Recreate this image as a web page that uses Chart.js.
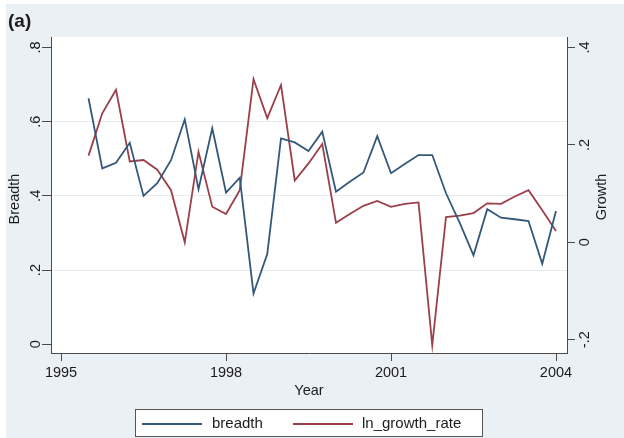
<!DOCTYPE html>
<html>
<head>
<meta charset="utf-8">
<script src="https://cdn.jsdelivr.net/npm/chart.js@4/dist/chart.umd.min.js"></script>
<style>
  html, body { margin: 0; padding: 0; background: #ffffff; }
  #wrap { width: 624px; height: 438px; position: relative; }
</style>
</head>
<body>
<div id="wrap"><canvas id="c" width="624" height="438"></canvas></div>
<script>
// Quarterly observations (year fractions)
const periods = [
  1995.50, 1995.75, 1996.00, 1996.25, 1996.50, 1996.75, 1997.00, 1997.25, 1997.50, 1997.75,
  1998.00, 1998.25, 1998.50, 1998.75, 1999.00, 1999.25, 1999.50, 1999.75, 2000.00, 2000.25,
  2000.50, 2000.75, 2001.00, 2001.25, 2001.50, 2001.75, 2002.00, 2002.25, 2002.50, 2002.75,
  2003.00, 2003.25, 2003.50, 2003.75, 2004.00
];

// Breadth (left axis)
const breadth = [
  0.663, 0.474, 0.489, 0.543, 0.400, 0.434, 0.496, 0.606, 0.418, 0.582,
  0.409, 0.449, 0.137, 0.243, 0.555, 0.544, 0.521, 0.573, 0.411, 0.438,
  0.463, 0.561, 0.461, 0.486, 0.510, 0.510, 0.407, 0.327, 0.240, 0.364,
  0.341, 0.337, 0.332, 0.217, 0.359
];

// ln growth rate (right axis)
const lnGrowthRate = [
  0.178, 0.265, 0.313, 0.166, 0.169, 0.149, 0.107, 0.000, 0.186, 0.073,
  0.058, 0.107, 0.335, 0.255, 0.323, 0.127, 0.162, 0.202, 0.040, 0.058,
  0.075, 0.085, 0.073, 0.079, 0.082, -0.211, 0.052, 0.055, 0.060, 0.080,
  0.079, 0.094, 0.107, 0.066, 0.023
];

// Axis ticks and their labels
const xTicks = [1995, 1998, 2001, 2004];
const xTickLabels = ['1995', '1998', '2001', '2004'];
const leftTicks = [0, 0.2, 0.4, 0.6, 0.8];
const leftTickLabels = ['0', '.2', '.4', '.6', '.8'];
const rightTicks = [-0.2, 0, 0.2, 0.4];
const rightTickLabels = ['-.2', '0', '.2', '.4'];

const seriesNames = ['breadth', 'ln_growth_rate'];
const BLUE = '#34587a';
const RED = '#9b3f4a';
const AXIS = '#4a4a4a';
const TEXT = '#1c1c1c';
const FONT = '"Liberation Sans", Arial, Helvetica, sans-serif';

const fixedTicks = (vals) => (scale) => { scale.ticks = vals.map(v => ({ value: v })); };

// Graph region, plot region, rotated axis text, title and legend box
const decor = {
  id: 'decor',
  beforeDraw(chart) {
    const { ctx, chartArea: a } = chart;
    ctx.save();
    ctx.fillStyle = '#ffffff';
    ctx.fillRect(0, 0, chart.width, chart.height);
    ctx.fillStyle = '#eaf0f4';
    ctx.fillRect(6, 4, chart.width - 6, chart.height - 4);
    ctx.fillStyle = '#ffffff';
    ctx.fillRect(a.left, a.top, a.right - a.left, a.bottom - a.top);
    ctx.restore();
  },
  afterDraw(chart) {
    const { ctx, chartArea: a } = chart;
    const sx = chart.scales.x, sl = chart.scales.y, sr = chart.scales.y1;
    ctx.save();
    ctx.fillStyle = TEXT;

    // title
    ctx.font = 'bold 19px ' + FONT;
    ctx.textAlign = 'left';
    ctx.textBaseline = 'alphabetic';
    ctx.fillText('(a)', 8, 27);

    // x tick labels and title
    ctx.font = '14.5px ' + FONT;
    ctx.textAlign = 'center';
    ctx.textBaseline = 'middle';
    xTicks.forEach((v, i) => ctx.fillText(xTickLabels[i], sx.getPixelForValue(v), 373));
    ctx.fillText('Year', (a.left + a.right) / 2, 391);

    // rotated y tick labels and titles
    const vtext = (txt, x, y) => {
      ctx.save();
      ctx.translate(x, y);
      ctx.rotate(-Math.PI / 2);
      ctx.fillText(txt, 0, 0);
      ctx.restore();
    };
    leftTicks.forEach((v, i) => vtext(leftTickLabels[i], 35.5, sl.getPixelForValue(v)));
    rightTicks.forEach((v, i) => vtext(rightTickLabels[i], 585, sr.getPixelForValue(v)));
    vtext('Breadth', 15, 199);
    vtext('Growth', 601.5, 197);

    // legend
    const bx = 135.5, by = 409.5, bw = 347, bh = 27;
    ctx.fillStyle = '#ffffff';
    ctx.fillRect(bx, by, bw, bh);
    ctx.strokeStyle = '#555555';
    ctx.lineWidth = 1;
    ctx.strokeRect(bx, by, bw, bh);
    const ly = 424;
    ctx.lineWidth = 1.8;
    ctx.strokeStyle = BLUE;
    ctx.beginPath(); ctx.moveTo(142, ly); ctx.lineTo(202, ly); ctx.stroke();
    ctx.strokeStyle = RED;
    ctx.beginPath(); ctx.moveTo(293, ly); ctx.lineTo(353, ly); ctx.stroke();
    ctx.fillStyle = TEXT;
    ctx.font = '15px ' + FONT;
    ctx.textAlign = 'left';
    ctx.fillText(seriesNames[0], 212, ly);
    ctx.fillText(seriesNames[1], 362, ly);
    ctx.restore();
  }
};

new Chart(document.getElementById('c'), {
  type: 'line',
  data: {
    datasets: [
      {
        label: seriesNames[0],
        data: periods.map((p, i) => ({ x: p, y: breadth[i] })),
        yAxisID: 'y',
        borderColor: BLUE,
        borderWidth: 1.8,
        pointRadius: 0,
        tension: 0,
        fill: false
      },
      {
        label: seriesNames[1],
        data: periods.map((p, i) => ({ x: p, y: lnGrowthRate[i] })),
        yAxisID: 'y1',
        borderColor: RED,
        borderWidth: 1.8,
        pointRadius: 0,
        tension: 0,
        fill: false
      }
    ]
  },
  options: {
    responsive: false,
    animation: false,
    devicePixelRatio: 1,
    layout: { padding: { top: 37, left: 0, right: 0, bottom: 0 } },
    plugins: { legend: { display: false }, title: { display: false }, tooltip: { enabled: false } },
    scales: {
      x: {
        type: 'linear',
        min: 1994.818,
        max: 2004.2,
        afterBuildTicks: fixedTicks(xTicks),
        afterFit: (s) => { s.height = 85; },
        ticks: { display: false },
        grid: { drawOnChartArea: false, drawTicks: true, tickLength: 8, tickColor: AXIS, tickWidth: 1 },
        border: { display: true, color: AXIS, width: 1 }
      },
      y: {
        position: 'left',
        min: -0.0234,
        max: 0.828,
        afterBuildTicks: fixedTicks(leftTicks),
        afterFit: (s) => { s.width = 51; },
        ticks: { display: false },
        grid: {
          color: (c) => (c.tick && c.tick.value > 0.01 && c.tick.value < 0.79) ? '#e6ebef' : 'rgba(0,0,0,0)',
          lineWidth: 1,
          drawTicks: true,
          tickLength: 9,
          tickColor: AXIS,
          tickWidth: 1
        },
        border: { display: true, color: AXIS, width: 1 }
      },
      y1: {
        position: 'right',
        min: -0.2273,
        max: 0.4216,
        afterBuildTicks: fixedTicks(rightTicks),
        afterFit: (s) => { s.width = 57; },
        ticks: { display: false },
        grid: { drawOnChartArea: false, drawTicks: true, tickLength: 8, tickColor: AXIS, tickWidth: 1 },
        border: { display: true, color: AXIS, width: 1 }
      }
    }
  },
  plugins: [decor]
});
</script>
</body>
</html>
